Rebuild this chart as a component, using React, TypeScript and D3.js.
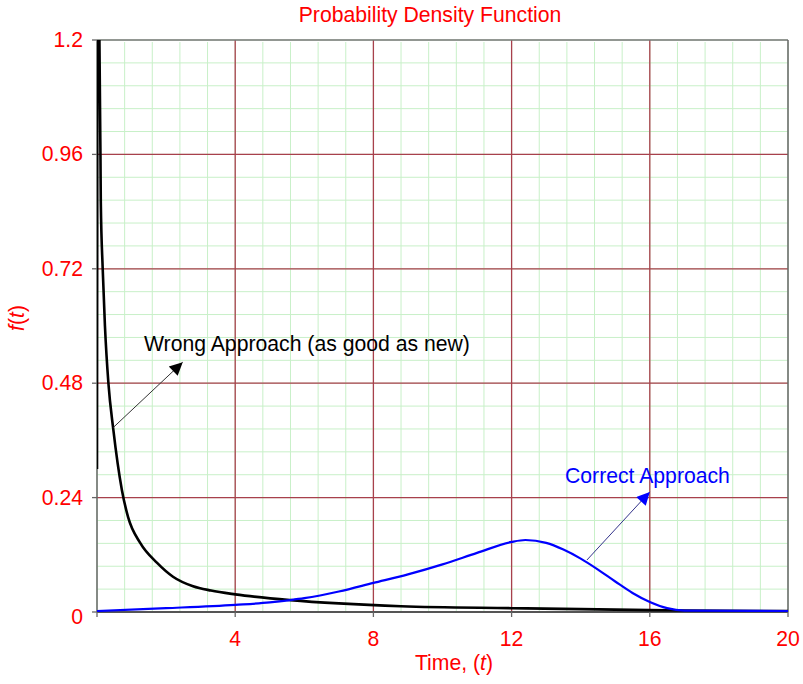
import React from "react";
import * as d3 from "d3";

// Probability density of time to failure, two modelling approaches
const wrongT = [0, 0.02, 0.07, 0.1, 0.11, 0.165, 0.23, 0.33, 0.47, 0.72, 0.9, 1.25, 1.74, 2.2, 2.78, 3.3, 4, 5.6, 7, 8.8, 12, 14, 16, 17, 20];
const wrongF = [0.3, 1.35, 1.2, 0.96, 0.86, 0.72, 0.6, 0.48, 0.384, 0.256, 0.199, 0.145, 0.103, 0.074, 0.054, 0.045, 0.037, 0.025, 0.018, 0.012, 0.008, 0.006, 0.004, 0.003, 0.002];

const correctT = [0, 2, 4, 5, 5.6, 6, 7, 8, 9, 10, 11, 12, 12.4, 13, 13.5, 14, 14.5, 15, 15.5, 16, 16.5, 17, 20];
const correctF = [0.002, 0.008, 0.015, 0.02, 0.025, 0.029, 0.043, 0.061, 0.079, 0.1, 0.124, 0.147, 0.151, 0.145, 0.131, 0.112, 0.089, 0.064, 0.04, 0.021, 0.008, 0.003, 0.002];

const xTicks = [4, 8, 12, 16, 20];
const yTicks = [0, 0.24, 0.48, 0.72, 0.96, 1.2];
const yTickLabels = ["0", "0.24", "0.48", "0.72", "0.96", "1.2"];

// Annotation arrows: [tail t, tail f, head t, head f]
const wrongArrow = [0.47, 0.387, 2.48, 0.524];
const correctArrow = [14.18, 0.109, 16.0, 0.252];

const W = 803;
const H = 684;
const left = 97;
const right = 788;
const top = 40;
const bottom = 612;

const x = d3.scaleLinear().domain([0, 20]).range([left, right]);
const y = d3.scaleLinear().domain([0, 1.2]).range([bottom, top]);

const minorX = d3.range(0, 20.0001, 0.8);
const minorY = d3.range(0, 1.2001, 0.048);

const RED = "#ff0000";
const MAJOR = "#a8404c";
const MINOR = "#c8f0c8";
const FONT = "Arial, 'Liberation Sans', Helvetica, sans-serif";
const FS = 21.2;

export default function App() {
  const wrongPts: [number, number][] = wrongT.map((t, i) => [t, wrongF[i]]);
  const correctPts: [number, number][] = correctT.map((t, i) => [t, correctF[i]]);

  const wrongLine = d3
    .line<[number, number]>()
    .x((d) => x(d[0]))
    .y((d) => y(d[1]))
    .curve(d3.curveMonotoneX);
  const correctLine = d3
    .line<[number, number]>()
    .x((d) => x(d[0]))
    .y((d) => y(d[1]))
    .curve(d3.curveMonotoneX);

  return (
    <svg
      width={W}
      height={H}
      style={{ position: "absolute", left: 0, top: 0, background: "#fff" }}
      fontFamily={FONT}
    >
      <defs>
        <clipPath id="plot-clip">
          <rect x={left} y={top} width={right - left} height={bottom - top} />
        </clipPath>
        <marker id="head-black" viewBox="0 0 10 10" refX="10" refY="5" markerWidth="17" markerHeight="13" markerUnits="userSpaceOnUse" orient="auto">
          <path d="M0,0 L10,5 L0,10 Z" fill="#000" />
        </marker>
        <marker id="head-blue" viewBox="0 0 10 10" refX="10" refY="5" markerWidth="17" markerHeight="13" markerUnits="userSpaceOnUse" orient="auto">
          <path d="M0,0 L10,5 L0,10 Z" fill="#0000ff" />
        </marker>
      </defs>

      {/* minor grid */}
      <g stroke={MINOR} strokeWidth={1}>
        {minorX.map((v) => (
          <line key={"mx" + v} x1={x(v)} x2={x(v)} y1={top + 2} y2={bottom} />
        ))}
        {minorY.map((v) => (
          <line key={"my" + v} x1={left} x2={right} y1={y(v)} y2={y(v)} />
        ))}
      </g>

      {/* major grid */}
      <g stroke={MAJOR} strokeWidth={1.3}>
        {xTicks.slice(0, -1).map((v) => (
          <line key={"Mx" + v} x1={x(v)} x2={x(v)} y1={top} y2={bottom} />
        ))}
        {yTicks.slice(1, -1).map((v) => (
          <line key={"My" + v} x1={left} x2={right} y1={y(v)} y2={y(v)} />
        ))}
      </g>

      {/* frame */}
      <g fill="none">
        <line x1={left} x2={right} y1={top} y2={top} stroke="#777" strokeWidth={1.5} />
        <line x1={right} x2={right} y1={top} y2={bottom} stroke="#666" strokeWidth={1.5} />
        <line x1={left} x2={left} y1={top} y2={bottom} stroke="#666" strokeWidth={1.5} />
        <line x1={left} x2={right} y1={bottom} y2={bottom} stroke="#555" strokeWidth={2} />
      </g>

      {/* ticks */}
      <g stroke="#666" strokeWidth={1.3}>
        {yTicks.map((v) => (
          <line key={"ty" + v} x1={left - 5} x2={left} y1={y(v)} y2={y(v)} />
        ))}
        {[0, ...xTicks].map((v) => (
          <line key={"tx" + v} x1={x(v)} x2={x(v)} y1={bottom} y2={bottom + 5} />
        ))}
      </g>

      {/* curves */}
      <g clipPath="url(#plot-clip)" fill="none">
        <path d={wrongLine(wrongPts) ?? ""} stroke="#000" strokeWidth={2.6} />
        <path d={correctLine(correctPts) ?? ""} stroke="#0000ff" strokeWidth={2.2} />
      </g>

      {/* annotations */}
      <line
        x1={x(wrongArrow[0])}
        y1={y(wrongArrow[1])}
        x2={x(wrongArrow[2])}
        y2={y(wrongArrow[3])}
        stroke="#333"
        strokeWidth={1}
        markerEnd="url(#head-black)"
      />
      <text x={144} y={351} fontSize={FS} fill="#000">
        Wrong Approach (as good as new)
      </text>
      <line
        x1={x(correctArrow[0])}
        y1={y(correctArrow[1])}
        x2={x(correctArrow[2])}
        y2={y(correctArrow[3])}
        stroke="#33338a"
        strokeWidth={1}
        markerEnd="url(#head-blue)"
      />
      <text x={565} y={483} fontSize={FS} fill="#0000ff">
        Correct Approach
      </text>

      {/* tick labels */}
      <g fill={RED} fontSize={FS}>
        {yTicks.map((v, i) => (
          <text key={"ly" + v} x={83} y={y(v) + (v === 0 ? 12 : 7)} textAnchor="end">
            {yTickLabels[i]}
          </text>
        ))}
        {xTicks.map((v) => (
          <text key={"lx" + v} x={x(v)} y={646} textAnchor="middle">
            {v}
          </text>
        ))}
      </g>

      {/* titles */}
      <text x={430} y={22} textAnchor="middle" fontSize={FS} fill={RED}>
        Probability Density Function
      </text>
      <text x={454} y={670} textAnchor="middle" fontSize={FS} fill={RED}>
        Time, (<tspan fontStyle="italic">t</tspan>)
      </text>
      <text transform="translate(24,318) rotate(-90)" textAnchor="middle" fontSize={FS} fill={RED}>
        <tspan fontStyle="italic">f</tspan>(<tspan fontStyle="italic">t</tspan>)
      </text>
    </svg>
  );
}
